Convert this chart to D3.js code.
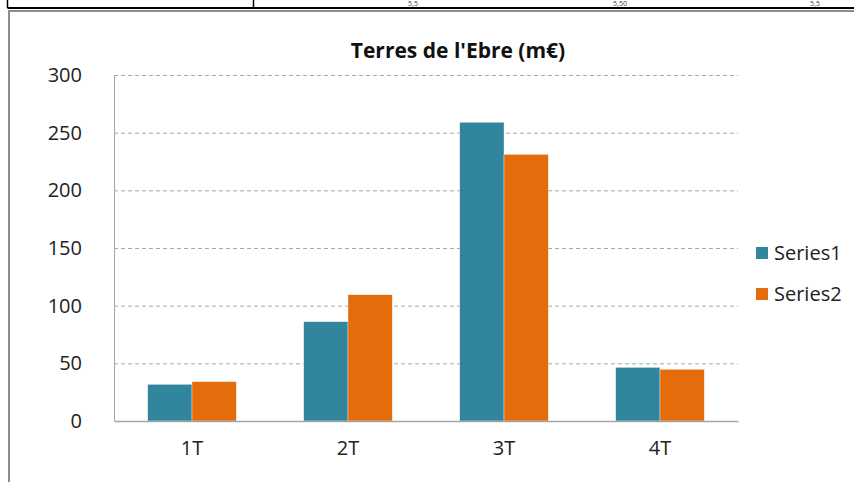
<!DOCTYPE html>
<html>
<head>
<meta charset="utf-8">
<script src="https://cdn.jsdelivr.net/npm/d3@7"></script>
<style>
  body { margin: 0; background: #fff; }
  svg { display: block; }
</style>
</head>
<body>
<div id="chart"></div>
<script>
// data
var quarters = ["1T", "2T", "3T", "4T"];
var seriesNames = ["Series1", "Series2"];
var series1 = [31.8, 86.1, 259, 46.5];
var series2 = [34.1, 109.5, 231.2, 44.8];
var yTicks = [0, 50, 100, 150, 200, 250, 300];
var chartTitle = "Terres de l'Ebre (m€)";
var tableBits = ["5,5", "5,50", "5,5"];

var colors = ["#31859C", "#E46C0A"];
var font = "'Open Sans', sans-serif";

var W = 854, H = 482;
var margin = { top: 75, right: 116, bottom: 61, left: 114 };
var width = W - margin.left - margin.right;
var height = H - margin.top - margin.bottom;

var svg = d3.select("#chart")
  .append("svg")
  .attr("width", W)
  .attr("height", H);

// bits of the table row above the chart
svg.append("line")
  .attr("x1", 7.5).attr("x2", W)
  .attr("y1", 8).attr("y2", 8)
  .attr("stroke", "#000").attr("stroke-width", 2);
svg.append("line")
  .attr("x1", 7.5).attr("x2", 7.5)
  .attr("y1", 0).attr("y2", 8)
  .attr("stroke", "#000").attr("stroke-width", 1.5);
svg.append("line")
  .attr("x1", 253.5).attr("x2", 253.5)
  .attr("y1", 0).attr("y2", 8)
  .attr("stroke", "#000").attr("stroke-width", 1.5);
[413, 620, 815].forEach(function (x, i) {
  svg.append("text")
    .attr("x", x).attr("y", 6)
    .attr("text-anchor", "middle")
    .style("font-family", font)
    .style("font-size", "7px")
    .attr("fill", "#444")
    .text(tableBits[i]);
});

// chart frame
svg.append("line")
  .attr("x1", 8).attr("x2", W)
  .attr("y1", 11).attr("y2", 11)
  .attr("stroke", "#8c8c8c").attr("stroke-width", 2);
svg.append("line")
  .attr("x1", 9).attr("x2", 9)
  .attr("y1", 10).attr("y2", H)
  .attr("stroke", "#8c8c8c").attr("stroke-width", 2);

var g = svg.append("g")
  .attr("transform", "translate(" + margin.left + "," + margin.top + ")");

var x = d3.scaleBand()
  .domain(quarters)
  .range([0, width])
  .paddingInner(0.432)
  .paddingOuter(0.216);

var xs = d3.scaleBand()
  .domain(seriesNames)
  .range([0, x.bandwidth()]);

var y = d3.scaleLinear()
  .domain([0, 300])
  .range([height, 0]);

// gridlines
g.selectAll(".grid")
  .data(yTicks.slice(1))
  .enter()
  .append("line")
  .attr("class", "grid")
  .attr("x1", 0).attr("x2", width)
  .attr("y1", function (d) { return y(d) + 0.5; })
  .attr("y2", function (d) { return y(d) + 0.5; })
  .attr("stroke", "#a6a6a6")
  .attr("stroke-dasharray", "4,3");

// y axis
var yAxis = d3.axisLeft(y)
  .tickValues(yTicks)
  .tickSize(0)
  .tickPadding(32);
var ya = g.append("g").call(yAxis);
ya.select(".domain").attr("stroke", "#a6a6a6").attr("d", "M0.5," + height + "V0");
ya.selectAll("text")
  .style("font-family", font)
  .style("font-size", "20px")
  .attr("fill", "#222");

// bars
var data = quarters.map(function (q, i) {
  return { q: q, vals: [series1[i], series2[i]] };
});

var groups = g.selectAll(".grp")
  .data(data)
  .enter()
  .append("g")
  .attr("transform", function (d) { return "translate(" + x(d.q) + ",0)"; });

groups.selectAll("rect")
  .data(function (d) { return d.vals.map(function (v, j) { return { k: seriesNames[j], v: v, j: j }; }); })
  .enter()
  .append("rect")
  .attr("x", function (d) { return xs(d.k); })
  .attr("width", xs.bandwidth())
  .attr("y", function (d) { return y(d.v); })
  .attr("height", function (d) { return height - y(d.v); })
  .attr("fill", function (d) { return colors[d.j]; })
  .attr("stroke", "#fff")
  .attr("stroke-opacity", 0.6)
  .attr("stroke-width", 0.6);

// x axis
var xAxis = d3.axisBottom(x).tickSize(0).tickPadding(20);
var xa = g.append("g")
  .attr("transform", "translate(0," + height + ")")
  .call(xAxis);
xa.select(".domain").attr("stroke", "#a6a6a6").attr("stroke-width", 1.5);
xa.selectAll("text")
  .style("font-family", font)
  .style("font-size", "20px")
  .attr("fill", "#222");

// title
svg.append("text")
  .attr("x", 458)
  .attr("y", 58)
  .attr("text-anchor", "middle")
  .style("font-family", font)
  .style("font-weight", "bold")
  .style("font-size", "21px")
  .attr("fill", "#111")
  .text(chartTitle);

// legend
var legend = svg.append("g")
  .attr("transform", "translate(756,247)");
seriesNames.forEach(function (s, i) {
  legend.append("rect")
    .attr("x", 0).attr("y", i * 41)
    .attr("width", 12).attr("height", 12)
    .attr("fill", colors[i]);
  legend.append("text")
    .attr("x", 18).attr("y", i * 41 + 6)
    .attr("dy", "0.35em")
    .style("font-family", font)
    .style("font-size", "20px")
    .attr("fill", "#222")
    .text(s);
});
</script>
</body>
</html>
